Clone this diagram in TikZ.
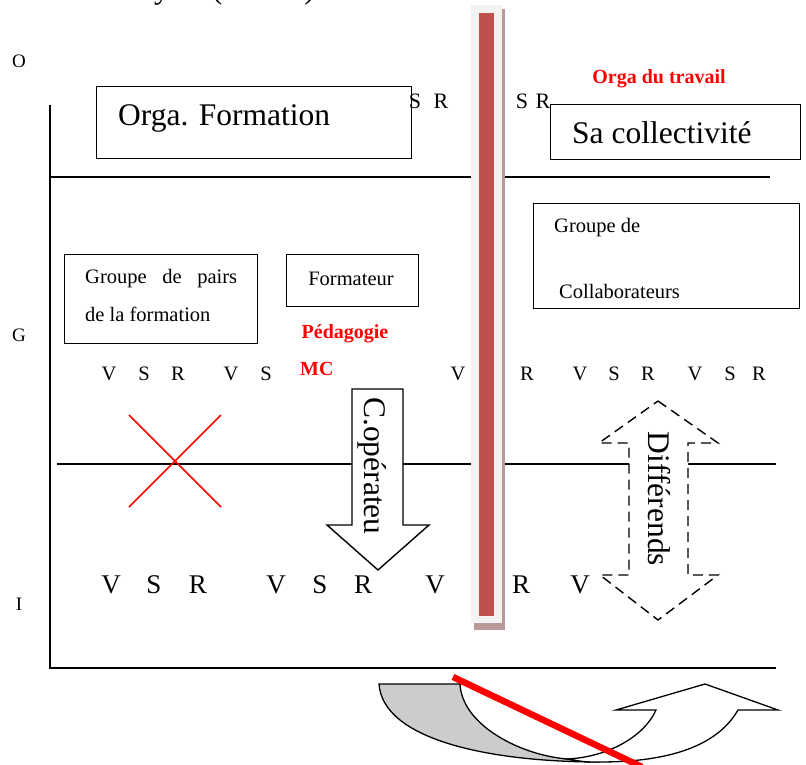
\documentclass[tikz,border=0pt]{standalone}
\usepackage{fontspec}
\setmainfont{Liberation Serif}
\definecolor{barred}{HTML}{C0504D}
\definecolor{barbg}{HTML}{F2F2F2}
\definecolor{barsh}{HTML}{BB9999}
\definecolor{arcgray}{HTML}{CCCCCC}
\tikzset{
  box/.style={draw, line width=1.4pt, fill=white, inner sep=0pt, anchor=north west},
  small/.style={font=\fontsize{20.5}{24}\selectfont, inner sep=0pt},
  mid/.style={font=\fontsize{22}{26}\selectfont, inner sep=0pt},
  big/.style={font=\fontsize{27}{32}\selectfont, inner sep=0pt},
  large/.style={font=\fontsize{31.5}{36}\selectfont, inner sep=0pt},
  tiny/.style={font=\fontsize{19}{22}\selectfont, inner sep=0pt},
  redbold/.style={font=\fontsize{20}{24}\selectfont\bfseries, text=red, inner sep=0pt},
  axis/.style={line width=1.3pt},
  blockarrow/.style={draw, line width=1.4pt, fill=white, line join=miter},
}
\begin{document}
\begin{tikzpicture}[x=1pt,y=-1pt]
\useasboundingbox (0,0) rectangle (806,765);
% clipped title (only its lowest part shows)
\node[large, anchor=base west] (title) at (154,-1) {y\hspace{42pt}(\hspace{82pt})};
% axes and level lines
\coordinate (ax0) at (50,105);
\coordinate (ax1) at (50,668);
\coordinate (ax2) at (776,668);
\draw[axis] (ax0) -- (ax1) -- (ax2);
\coordinate (l1a) at (50,177);
\coordinate (l1b) at (770,177);
\draw[axis] (l1a) -- (l1b);
\coordinate (l2a) at (57,464);
\coordinate (l2b) at (776,464);
\draw[axis] (l2a) -- (l2b);
% level letters
\node[tiny] (lO) at (19,61) {O};
\node[tiny] (lG) at (19,335) {G};
\node[tiny] (lI) at (19,604) {I};
% red bar
\fill[barsh] (474,9) rectangle (505,630);
\fill[barbg] (471,5) rectangle (502,623);
\fill[barred] (479,13) rectangle (494,616);
% top boxes
\node[box, minimum width=315pt, minimum height=72pt] (orgaF) at (96,86) {};
\node[large, anchor=west] (orgaFt) at (118,118) {Orga. Formation};
\node[mid] (s1) at (415,101) {S};
\node[mid] (r1) at (441,101) {R};
\node[mid] (s2) at (522,101) {S};
\node[mid] (r2) at (543,101) {R};
\node[redbold] (orgaT) at (659,79) {Orga du travail};
\node[box, minimum width=250pt, minimum height=55pt] (sacol) at (550,104) {};
\node[large, anchor=west] (sacolt) at (572,133) {Sa collectivit\'e};
% group boxes
\node[box, minimum width=193pt, minimum height=89pt] (gpairs) at (64,254) {};
\node[small, anchor=west] (gp1) at (85,279) {\hbox to 152pt{Groupe\hfil de\hfil pairs}};
\node[small, anchor=west] (gp2) at (85,314) {de la formation};
\node[box, minimum width=132pt, minimum height=52pt] (form) at (286,254) {};
\node[small] (formt) at (351,279) {Formateur};
\node[redbold] (peda) at (345,334) {P\'edagogie};
\node[redbold, anchor=west] (mc) at (300,369) {MC};
\node[box, minimum width=266pt, minimum height=105pt] (gcoll) at (533,203) {};
\node[small, anchor=west] (gc1) at (554,228) {Groupe de};
\node[small, anchor=west] (gc2) at (559,291) {Collaborateurs};
% V S R middle row
\foreach \x/\t [count=\i] in {109/V,144/S,178/R,231/V,266/S,458/V,527/R,580/V,614/S,648/R,695/V,730/S,759/R}
  \node[small] (m\i) at (\x,374) {\t};
% V S R bottom row
\foreach \x/\t [count=\i] in {111/V,154/S,198/R,276/V,320/S,363/R,435/V,521/R,580/V}
  \node[big] (b\i) at (\x,585) {\t};
% red cross
\coordinate (xa) at (129,415);
\coordinate (xb) at (221,507);
\coordinate (xc) at (221,415);
\coordinate (xd) at (129,507);
\draw[red, line width=1.6pt] (xa) -- (xb) (xc) -- (xd);
% C.operateur arrow
\draw[blockarrow] (352,389) -- (403,389) -- (403,525) -- (429,525) -- (378,570) -- (327,525) -- (352,525) -- cycle;
\node[large, rotate=-90] (cop) at (372,466) {C.op\'erateu};
% Differends arrow
\draw[blockarrow, dash pattern=on 10pt off 6pt] (658,401) -- (718,443) -- (688,443) -- (688,575) -- (718,575) -- (658,620) -- (600,575) -- (629,575) -- (629,443) -- (599,443) -- cycle;
\node[large, rotate=-90] (diff) at (659,499) {Diff\'erends};
% bottom curved arrow
\draw[line width=1.3pt, fill=arcgray] (379,684) -- (460,684) .. controls (462,725) and (520,755) .. (567,759) .. controls (580,761) .. (600,762) .. controls (490,762) and (383,740) .. (379,684) -- cycle;
\draw[line width=1.3pt, fill=white, line join=miter] (567,759) .. controls (610,757) and (645,735) .. (656,710) -- (616,710) -- (705,684) -- (778,710) -- (738,710) .. controls (715,750) and (660,762) .. (600,762) .. controls (585,762) .. (567,759) -- cycle;
\coordinate (rs) at (453,677);
\coordinate (re) at (642,767);
\draw[red, line width=6.5pt] (rs) -- (re);
\end{tikzpicture}
\end{document}
